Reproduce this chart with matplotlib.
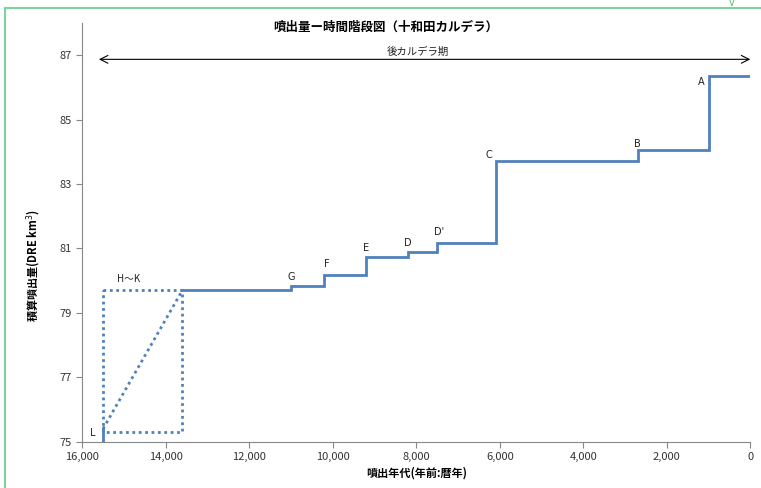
import numpy as np
import matplotlib.pyplot as plt
from matplotlib.lines import Line2D

plt.rcParams['font.family'] = ['Noto Sans CJK JP', 'DejaVu Sans']

# 累積噴出量の階段 (年前, km3 DRE)
step_years = [13600, 11000, 10200, 9200, 8200, 7500, 6100, 2700, 1000, 0]
step_vol = [79.70, 79.83, 80.17, 80.73, 80.88, 81.18, 83.70, 84.07, 86.34, 86.34]

# L と H〜K (年代幅のある部分)
L_year = 15500
L_vol = [75.0, 75.4]
hk_box = (15500, 13600, 75.3, 79.7)   # 左, 右, 下, 上

blue = '#4f81bd'

fig = plt.figure(figsize=(7.61, 4.88), dpi=100)
ax = fig.add_axes([0.108, 0.095, 0.878, 0.858])

ax.plot(step_years, step_vol, drawstyle='steps-post', color=blue, lw=2.0,
        solid_joinstyle='miter')
ax.plot([L_year, L_year], L_vol, color=blue, lw=2.0)

x0, x1, y0, y1 = hk_box
ax.plot([x0, x1, x1, x0, x0], [y1, y1, y0, y0, y1], color=blue, lw=2.0,
        ls=(0, (1, 1.3)))
ax.plot([x0, x1], [L_vol[1], y1], color=blue, lw=2.0, ls=(0, (1, 1.3)))

# 各噴火の記号
lab_kw = dict(fontsize=7, color='#222222', family=['DejaVu Sans'])
ax.text(11000, 79.95, 'G', ha='center', va='bottom', **lab_kw)
ax.text(10150, 80.35, 'F', ha='center', va='bottom', **lab_kw)
ax.text(9200, 80.85, 'E', ha='center', va='bottom', **lab_kw)
ax.text(8200, 81.0, 'D', ha='center', va='bottom', **lab_kw)
ax.text(7450, 81.35, "D'", ha='center', va='bottom', **lab_kw)
ax.text(6270, 83.75, 'C', ha='center', va='bottom', **lab_kw)
ax.text(2700, 84.1, 'B', ha='center', va='bottom', **lab_kw)
ax.text(1100, 86.0, 'A', ha='right', va='bottom', **lab_kw)
ax.text(15680, 75.1, 'L', ha='right', va='bottom', **lab_kw)
ax.text(14900, 79.9, 'H～K', ha='center', va='bottom', fontsize=7,
        color='#222222', family=['Noto Sans CJK JP', 'DejaVu Sans'])

# 後カルデラ期
ax.annotate('', xy=(15600, 86.87), xytext=(0, 86.87),
            arrowprops=dict(arrowstyle='<->', color='black', lw=0.8,
                            mutation_scale=14, shrinkA=0, shrinkB=0))
ax.text(7970, 86.93, '後カルデラ期', ha='center', va='bottom', fontsize=7.5,
        color='#222222')

ax.set_xlim(16000, 0)
ax.set_ylim(75, 88)
ax.set_xticks(np.arange(16000, -1, -2000))
ax.set_xticklabels([f'{v:,}' for v in range(16000, -1, -2000)])
ax.set_yticks([75, 77, 79, 81, 83, 85, 87])
ax.tick_params(labelsize=8, colors='#333333', length=4, color='#888888')
for s in ['top', 'right']:
    ax.spines[s].set_visible(False)
for s in ['left', 'bottom']:
    ax.spines[s].set_color('#888888')

fig.text(386 / 761, 1 - 27 / 488, '噴出量ー時間階段図（十和田カルデラ）',
         fontsize=9, fontweight='bold', ha='center', va='center')
ax.set_xlabel('噴出年代(年前:暦年)', fontsize=8, fontweight='bold',
              labelpad=3)
ax.set_ylabel('積算噴出量(DRE km$^3$)', fontsize=8, fontweight='bold')
ax.yaxis.set_label_coords(-0.060, 0.42)

# 外枠 (緑)
green = '#7dd3a0'
fig.add_artist(Line2D([5 / 761, 5 / 761], [0, 1 - 8 / 488], color=green,
                      lw=1.5, transform=fig.transFigure))
fig.add_artist(Line2D([5 / 761, 1], [1 - 8 / 488, 1 - 8 / 488], color=green,
                      lw=1.5, transform=fig.transFigure))
fig.text(732 / 761, 1 - 4 / 488, 'V', color='#3cc060', fontsize=6,
         ha='center', va='center', family=['DejaVu Sans'])

fig.savefig('out.png', dpi=100)
